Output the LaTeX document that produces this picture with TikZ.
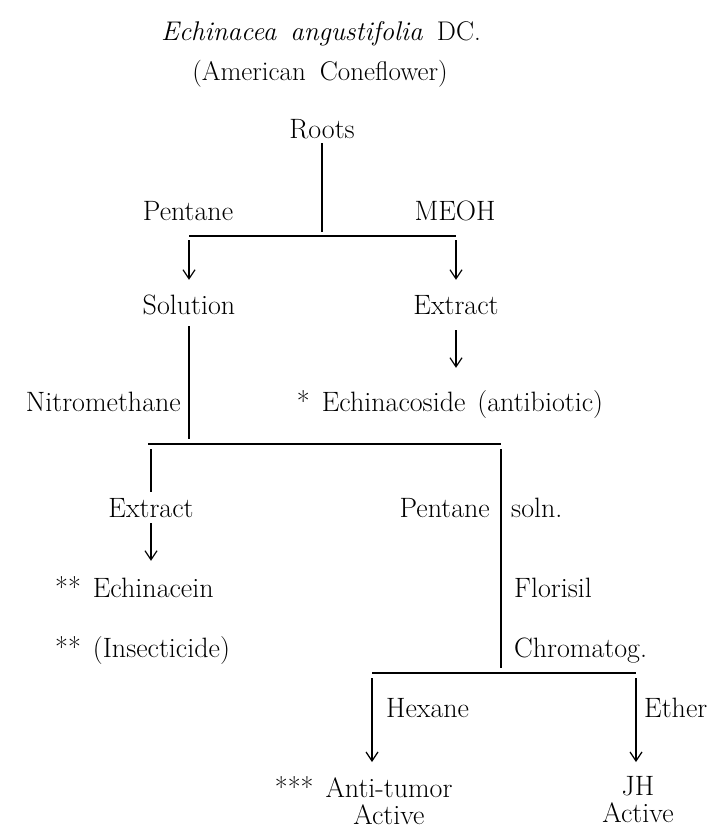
\documentclass[tikz,border=0pt]{standalone}
\usetikzlibrary{arrows.meta}
\newcommand\wordfont{\fontsize{28}{27}\selectfont\spaceskip=12pt plus 2pt\relax}
\newcommand\titlefont{\fontsize{27}{28}\selectfont\spaceskip=14pt plus 2pt\relax}
\tikzset{
	word/.style={inner sep=0pt, text height=21pt, text depth=1pt, font=\wordfont},
	stem/.style={line width=1.2pt},
	rail/.style={line width=1.6pt},
	arrowstem/.style={stem, -{Straight Barb[length=9pt,width=12pt,line width=1.2pt]}},
}
\begin{document}
\begin{tikzpicture}[x=1pt,y=-1pt]
	\useasboundingbox (0,0) rectangle (714,828);
	\node[word,font=\titlefont] (title) at (321,30) {\textit{Echinacea angustifolia} DC.};
	\node[word,font=\titlefont] (common) at (320,70) {(American Coneflower)};
	\node[word] (roots) at (322,128) {Roots};
	\node[word] (pent) at (188,210) {Pentane};
	\node[word] (meoh) at (455,210) {MEOH};
	\node[word] (sol) at (189,304) {Solution};
	\node[word] (ext) at (456,304) {Extract};
	\node[word,anchor=east] (nitro) at (181,401) {Nitromethane};
	\node[word] (ecos) at (450,401) {* Echinacoside (antibiotic)};
	\node[word] (ext2) at (151,507) {Extract};
	\node[word,anchor=west] (ecin) at (55,587) {** Echinacein};
	\node[word,anchor=west] (insect) at (55,647) {** (Insecticide)};
	\node[word,anchor=east] (pent2) at (490,507) {Pentane};
	\node[word,anchor=west] (soln) at (511,507) {soln.};
	\node[word,anchor=west] (flor) at (514,587) {Florisil};
	\node[word,anchor=west] (chrom) at (514,647) {Chromatog.};
	\node[word,anchor=west] (hex) at (386,707) {Hexane};
	\node[word,anchor=west] (ether) at (644,707) {Ether};
	\node[word,text height=,text depth=,align=center,anchor=north] (tumor) at (389,776) {\llap{*** }Anti-tumor\\Active};
	\node[word,text height=,text depth=,align=center,anchor=north] (jh) at (638,776) {JH\\Active};
	
	\coordinate (b1l) at (189,236);
	\coordinate (b1r) at (456,236);
	\coordinate (b2l) at (148,444);
	\coordinate (b2r) at (501,444);
	\coordinate (b3l) at (372,673);
	\coordinate (b3r) at (636,673);
	
	\draw[stem,shorten <=4pt,shorten >=4pt] (roots) -- (roots |- b1l);
	\draw[rail] (b1l) -- (b1r);
	\draw[arrowstem,shorten <=4pt,shorten >=13pt] (b1l) -- (sol);
	\draw[arrowstem,shorten <=4pt,shorten >=13pt] (b1r) -- (ext);
	\draw[arrowstem,shorten <=15pt,shorten >=22pt] (ext) -- (ext |- ecos.north);
	\draw[stem,shorten <=11pt,shorten >=5pt] (sol) -- (sol |- b2l);
	\draw[rail] (b2l) -- (b2r);
	\draw[stem,shorten <=5pt,shorten >=4pt] (ext2 |- b2l) -- (ext2);
	\draw[arrowstem,shorten <=5pt,shorten >=15pt] (ext2) -- (ext2 |- ecin.north);
	\draw[stem,shorten <=5pt,shorten >=5pt] (b2r) -- (b2r |- b3l);
	\draw[rail] (b3l) -- (b3r);
	\draw[arrowstem,shorten <=5pt,shorten >=14pt] (b3l) -- (b3l |- tumor.north);
	\draw[arrowstem,shorten <=5pt,shorten >=14pt] (b3r) -- (b3r |- jh.north);
\end{tikzpicture}
\end{document}
